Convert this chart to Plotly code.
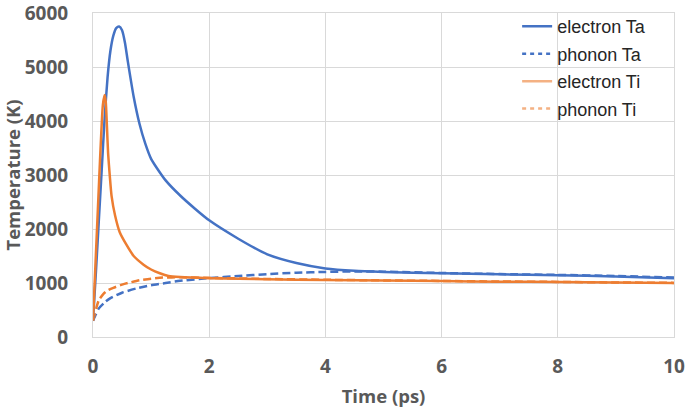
import plotly.graph_objects as go

# ---- data ----
t_e_ta = [0, 0.05, 0.1, 0.15, 0.2, 0.25, 0.3, 0.35, 0.4, 0.45, 0.5, 0.55, 0.6, 0.7, 0.8, 0.9, 1.0,
          1.25, 1.5, 1.75, 2.0, 2.5, 3.0, 3.5, 4.0, 4.5, 5, 6, 7, 8, 9, 10]
T_e_ta = [300, 1200, 2150, 3100, 4050, 4800, 5300, 5580, 5720, 5750, 5680, 5450, 5100, 4450, 3950,
          3580, 3300, 2900, 2620, 2380, 2160, 1820, 1530, 1370, 1270, 1225, 1205, 1180,
          1160, 1145, 1120, 1090]

t_p_ta = [0, 0.05, 0.1, 0.2, 0.3, 0.5, 0.75, 1.0, 1.25, 1.5, 2, 2.5, 3, 3.5, 4, 4.5, 5, 6, 7, 8, 9, 10]
T_p_ta = [300, 420, 530, 640, 720, 820, 900, 960, 1000, 1040, 1090, 1130, 1165, 1190, 1205, 1215,
          1210, 1185, 1165, 1150, 1130, 1100]

t_e_ti = [0, 0.03, 0.06, 0.09, 0.12, 0.15, 0.17, 0.2, 0.22, 0.24, 0.26, 0.29, 0.32, 0.38, 0.46,
          0.58, 0.7, 0.87, 1.0, 1.15, 1.3, 1.5, 2, 3, 4, 5, 6, 7, 8, 9, 10]
T_e_ti = [300, 1040, 1780, 2520, 3260, 3950, 4300, 4480, 4350, 3900, 3400, 2970, 2610, 2250, 1940,
          1700, 1500, 1340, 1250, 1180, 1130, 1110, 1090, 1070, 1055, 1045, 1035, 1025, 1018, 1008, 1000]

t_p_ti = [0, 0.03, 0.06, 0.1, 0.18, 0.25, 0.35, 0.5, 0.6, 0.8, 1.0, 1.2, 1.5, 2, 3, 4, 5, 6, 7, 8, 9, 10]
T_p_ti = [300, 420, 550, 680, 800, 860, 910, 970, 1000, 1050, 1080, 1100, 1105, 1095, 1075, 1060,
          1048, 1038, 1028, 1020, 1010, 1002]

legend_names = ["electron Ta", "phonon Ta", "electron Ti", "phonon Ti"]

BLUE = "#4472C4"
ORANGE = "#ED7D31"
ORANGE_LEG = "#F4B183"
GRID = "#D9D9D9"
TXT = "#595959"
TICKFONT = dict(family="Open Sans", size=19, color=TXT, weight="bold")
TITLEFONT = dict(family="Open Sans", size=18.5, color=TXT, weight="bold")

fig = go.Figure()

def add_series(x, y, color, dash):
    fig.add_trace(go.Scatter(x=x, y=y, mode="lines", showlegend=False, hoverinfo="skip",
                             line=dict(color=color, width=2.5, dash=dash, shape="spline", smoothing=0.6)))

add_series(t_p_ta, T_p_ta, BLUE, "8px,4px")
add_series(t_p_ti, T_p_ti, ORANGE, "8px,4px")
add_series(t_e_ta, T_e_ta, BLUE, "solid")
add_series(t_e_ti, T_e_ti, ORANGE, "solid")

# legend-only entries
for name, color, dash in zip(legend_names, [BLUE, BLUE, ORANGE_LEG, ORANGE_LEG],
                             ["solid", "4px,4px", "solid", "4px,4px"]):
    fig.add_trace(go.Scatter(x=[None], y=[None], mode="lines", name=name, legendgroup=name,
                             line=dict(color=color, width=2.5, dash=dash)))

fig.update_layout(
    width=685, height=410,
    margin=dict(l=93, r=11, t=8, b=73),
    paper_bgcolor="white", plot_bgcolor="white",
    showlegend=True,
    legend=dict(x=0.73, y=1.015, xanchor="left", yanchor="top", bgcolor="rgba(0,0,0,0)",
                font=dict(family="Liberation Sans, Arial", size=18, color="#262626"),
                tracegroupgap=1, traceorder="grouped", itemwidth=30),
    xaxis=dict(range=[0, 10], dtick=2, tick0=0, showgrid=True, gridcolor=GRID, gridwidth=1,
               zeroline=False, showline=True, mirror=True, linecolor=GRID, linewidth=1,
               ticks="outside", ticklen=12, tickcolor="rgba(0,0,0,0)", automargin=False,
               ticklabeloverflow="allow", tickfont=TICKFONT,
               title=dict(text="Time (ps)", standoff=12, font=TITLEFONT)),
    yaxis=dict(range=[0, 6000], dtick=1000, tick0=0, showgrid=True, gridcolor=GRID, gridwidth=1,
               zeroline=False, showline=True, mirror=True, linecolor=GRID, linewidth=1,
               ticks="outside", ticklen=20, tickcolor="rgba(0,0,0,0)", automargin=False,
               ticklabeloverflow="allow", tickfont=TICKFONT,
               title=dict(text="Temperature (K)", standoff=4, font=TITLEFONT)),
)

fig.write_html("out.html", config={"displayModeBar": False},
               post_script="document.body.style.margin='0';")
